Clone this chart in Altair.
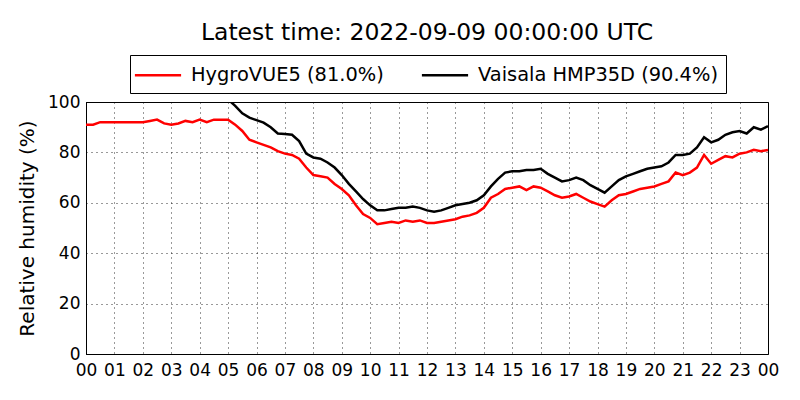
import altair as alt
import pandas as pd

series_names = ["HygroVUE5 (81.0%)", "Vaisala HMP35D (90.4%)"]
series_colors = ["red", "black"]

# hour of day, 15-minute steps (0 .. 24)
hours = [i / 4 for i in range(97)]

hygrovue = [
    91, 91, 92, 92, 92, 92, 92, 92,
    92, 92.5, 93, 91.5, 91, 91.5, 92.5, 92,
    93, 92, 93, 93, 93, 91, 88.5, 85,
    84, 83, 82, 80.5, 79.5, 79, 77.5, 74,
    71, 70.5, 70, 67.5, 65.5, 63, 59, 55.5,
    54, 51.5, 52, 52.5, 52, 53, 52.5, 53,
    52, 52, 52.5, 53, 53.5, 54.5, 55, 56,
    58, 62, 63.5, 65.5, 66, 66.5, 65, 66.5,
    66, 64.5, 63, 62, 62.5, 63.5, 62, 60.5,
    59.5, 58.5, 61, 63, 63.5, 64.5, 65.5, 66,
    66.5, 67.5, 68.5, 72, 71, 72, 74, 79,
    75.5, 77, 78.5, 78, 79.5, 80, 81, 80.5,
    81,
]

hmp35d = [
    100, 102, 102, 102, 102, 102, 102, 102,
    102, 102, 102, 102, 102, 102, 102, 102,
    102, 102, 102, 102, 101, 98.5, 95.5, 93.8,
    92.8, 91.8, 90, 87.5, 87.3, 87, 84.5, 79.5,
    78, 77.5, 76, 74, 71, 67.5, 64.5, 61.5,
    59, 57, 57, 57.5, 58, 58, 58.5, 58,
    57, 56.5, 57, 58, 59, 59.5, 60, 61,
    63, 66.5, 69.5, 72, 72.5, 72.5, 73, 73,
    73.5, 71.5, 70, 68.5, 69, 70, 69, 67,
    65.5, 64, 66.5, 69, 70.5, 71.5, 72.5, 73.5,
    74, 74.5, 76, 79, 79, 79.5, 82, 86,
    84, 85, 87, 88, 88.5, 87.5, 90, 89,
    90.4,
]

x_ticks = list(range(25))
y_ticks = [0, 20, 40, 60, 80, 100]

df = pd.concat([
    pd.DataFrame({"hour": hours, "rh": hygrovue, "series": series_names[0]}),
    pd.DataFrame({"hour": hours, "rh": hmp35d, "series": series_names[1]}),
])

FONT = "DejaVu Sans"

chart = alt.Chart(df).mark_line(clip=True, strokeWidth=2.5).encode(
    x=alt.X("hour:Q",
            scale=alt.Scale(domain=[0, 24], nice=False, zero=False),
            axis=alt.Axis(values=x_ticks, title=None,
                          labelExpr="datum.value == 24 ? '00' : (datum.value < 10 ? '0' + datum.value : '' + datum.value)",
                          labelFontSize=17, labelFont=FONT, labelColor="black",
                          labelPadding=8, ticks=False, domainColor="black",
                          labelFlush=False, labelBound=False,
                          grid=True, gridDash=[1, 4], gridColor="black", gridOpacity=0.8,
                          labelOverlap=False)),
    y=alt.Y("rh:Q",
            scale=alt.Scale(domain=[0, 100], nice=False),
            axis=alt.Axis(values=y_ticks, title="Relative humidity (%)",
                          titleFontSize=20, titleFont=FONT, titleFontWeight="normal",
                          titleColor="black", titlePadding=10,
                          labelFontSize=17, labelFont=FONT, labelColor="black",
                          labelPadding=6, ticks=False, domainColor="black",
                          labelFlush=False,
                          grid=True, gridDash=[1, 4], gridColor="black", gridOpacity=0.8)),
    color=alt.Color("series:N",
                    scale=alt.Scale(domain=series_names, range=series_colors),
                    legend=alt.Legend(title=None, orient="none", legendX=44, legendY=-47,
                                      direction="horizontal", symbolType="M-2.2,0H2.2",
                                      symbolSize=441, symbolStrokeWidth=2.5,
                                      symbolOffset=8,
                                      labelFontSize=19.4, labelFont=FONT, labelColor="black",
                                      labelOffset=21, columnPadding=32, labelLimit=0,
                                      strokeColor="black", fillColor="white", padding=8)),
).properties(
    width=682,
    height=252,
    title=alt.TitleParams("Latest time: 2022-09-09 00:00:00 UTC", fontSize=23.5,
                          font=FONT, fontWeight="normal", color="black",
                          anchor="middle", offset=10),
    autosize=alt.AutoSizeParams(type="none"),
    padding={"left": 78, "top": 94, "right": 24, "bottom": 38},
).configure_view(
    stroke="black", strokeWidth=1
)

chart.save("out.html", embed_options={"renderer": "svg", "actions": False})
